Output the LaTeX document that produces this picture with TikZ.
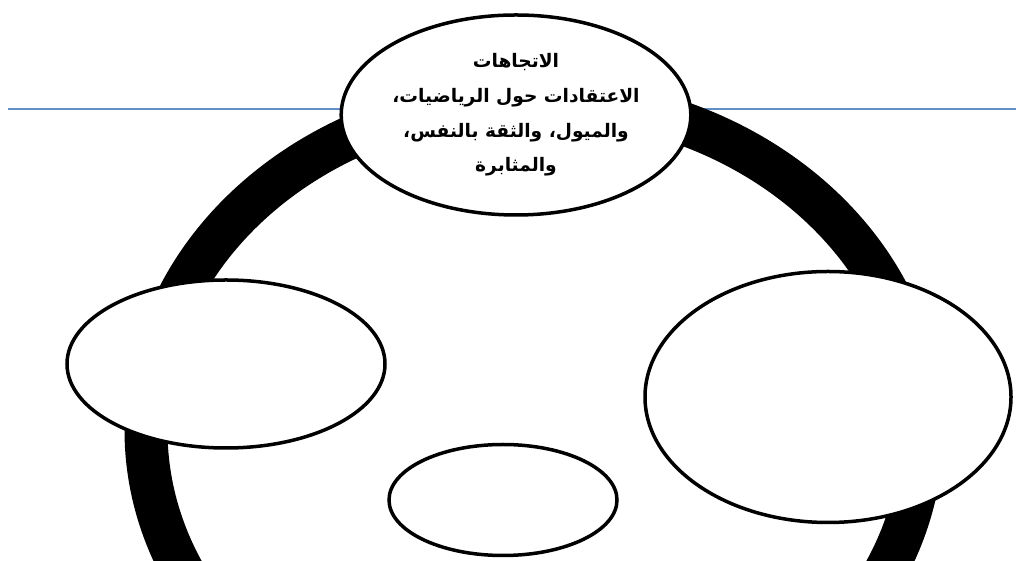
\documentclass[tikz,border=0pt]{standalone}
\usepackage{fontspec}
\newfontfamily\arabicfont[Script=Arabic]{DejaVu Sans}
\TeXXeTstate=1
\usepackage{tikz}
\usetikzlibrary{shapes.geometric,positioning}
\definecolor{rulecol}{RGB}{98,142,200}

\begin{document}
\begin{tikzpicture}[x=0.2mm, y=0.2mm,
  bub/.style={draw,ellipse,fill=white,line width=0.7mm,inner sep=0pt},
  ring/.style={line width=8.6mm}]
  \clip (0,0) rectangle (1016,561);
  % thin rule behind everything
  \coordinate (rl) at (8,452);
  \coordinate (rr) at (1016,452);
  \draw[rulecol,line width=0.4mm] (rl) -- (rr);
  % big ring
  \coordinate (c) at (534,131);
  \draw[ring] (c) ellipse [x radius=388, y radius=332];
  % bubbles
  \node[bub,minimum width=68.4mm,minimum height=40mm,align=center,
    font=\arabicfont\bfseries\fontsize{10.6}{19.8}\selectfont] (att) at (516,446)
    {\beginR الاتجاهات\endR\\
     \beginR الاعتقادات حول الرياضيات،\endR\\
     \beginR والميول، والثقة بالنفس،\endR\\
     \beginR والمثابرة\endR};
  \node[bub,minimum width=63.6mm,minimum height=33.6mm] (lft) at (226,197) {};
  \node[bub,minimum width=73.2mm,minimum height=50.2mm] (rgt) at (828,164) {};
  \node[bub,minimum width=45.6mm,minimum height=22.2mm] (bot) at (503,61) {};
\end{tikzpicture}
\end{document}
